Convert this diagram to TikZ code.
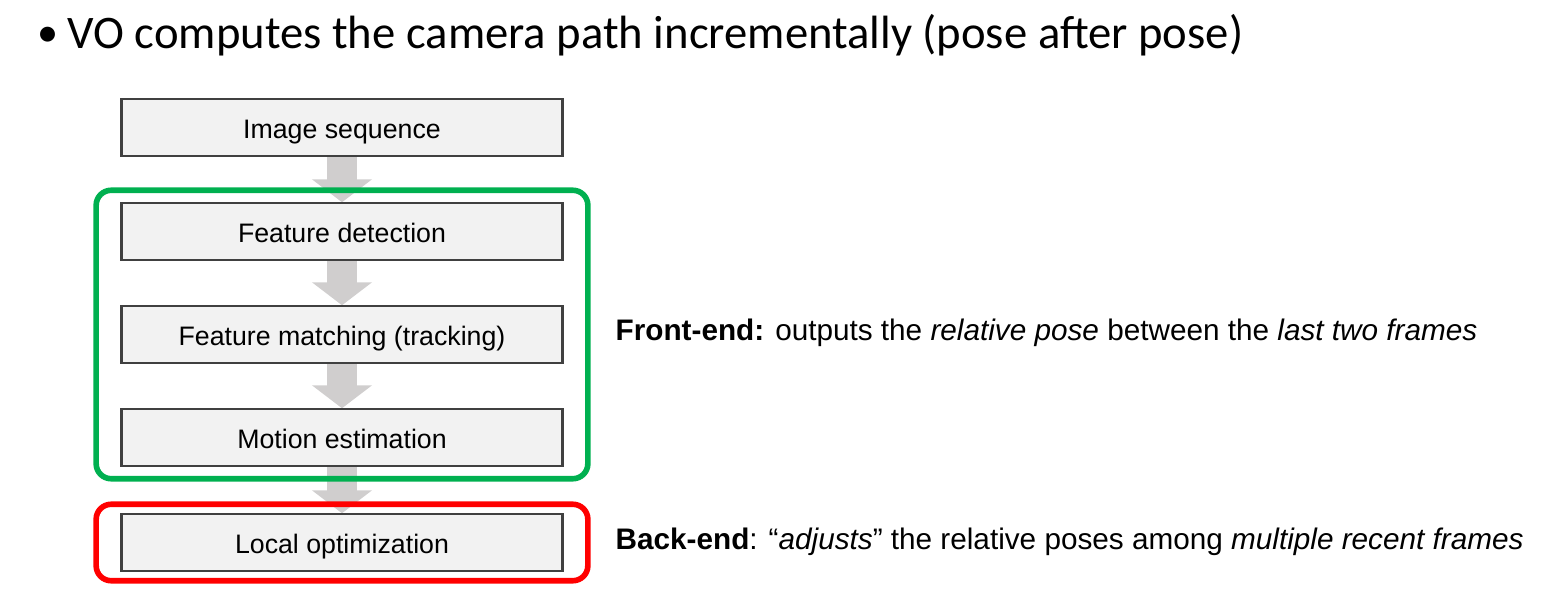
\documentclass[tikz,border=0pt]{standalone}
\usepackage{fontspec}
\setmainfont{Liberation Sans}
\newfontfamily\titlefont{Carlito}
\usetikzlibrary{arrows.meta,fit}

\definecolor{boxfill}{RGB}{242,242,242}
\definecolor{boxline}{RGB}{64,64,64}
\definecolor{flowgray}{RGB}{208,206,206}
\definecolor{frontgreen}{RGB}{0,176,80}
\definecolor{backred}{RGB}{255,0,0}

\tikzset{
	stepbox/.style={draw=boxline, fill=boxfill, line width=0.4pt, minimum width=4.4cm, minimum height=0.57cm, inner sep=0pt, text height=7.6pt, text depth=1.6pt, font=\fontsize{7.6}{9}\selectfont},
	flow/.style={draw=flowgray, line width=0.3cm, -{Triangle[length=0.23cm, width=0.59cm]}},
	stageframe/.style={line width=1.6pt, rounded corners=0.15cm, inner xsep=0.25cm, inner ysep=0.12cm},
	note/.style={anchor=base west, inner sep=0pt, font=\fontsize{8.45}{10}\selectfont},
}

\begin{document}
\begin{tikzpicture}[x=0.01cm, y=-0.01cm]
		\useasboundingbox (0,0) rectangle (1546,589);
		
		%title line
		\node[anchor=base west, inner sep=0pt, font=\titlefont\fontsize{12}{16}\selectfont] (bullet) at (37,47) {•};
		\node[anchor=base west, inner sep=0pt, font=\titlefont\fontsize{13.27}{16}\selectfont] (title) at (67,49) {VO computes the camera path incrementally (pose after pose)};
		
		%pipeline
		\node[stepbox] (img) at (342,127.5) {Image sequence};
		\node[stepbox] (det) at (342,231.5) {Feature detection};
		\node[stepbox] (mat) at (342,334.5) {Feature matching (tracking)};
		\node[stepbox] (mot) at (342,437.5) {Motion estimation};
		\node[stepbox] (opt) at (342,542.5) {Local optimization};
		
		\draw[flow] (img.south) -- (det.north);
		\draw[flow] (det.south) -- (mat.north);
		\draw[flow] (mat.south) -- (mot.north);
		\draw[flow] (mot.south) -- (opt.north);
		
		%redraw box borders over the arrows
		\foreach \n in {img, det, mat, mot, opt}{
			\draw[draw=boxline, line width=0.4pt] (\n.north west) rectangle (\n.south east);
		}
		
		%front-end and back-end
		\node[stageframe, draw=frontgreen, fit=(det)(mot)] (front) {};
		\node[stageframe, draw=backred, inner ysep=0.09cm, fit=(opt)] (back) {};
		
		\node[note] (frontnote) at (615,341) {\textbf{Front-end:} outputs the \textit{relative pose} between the \textit{last two frames}};
		\node[note] (backnote) at (615,550) {\textbf{Back-end}: “\textit{adjusts}” the relative poses among \textit{multiple recent frames}};
\end{tikzpicture}
\end{document}
